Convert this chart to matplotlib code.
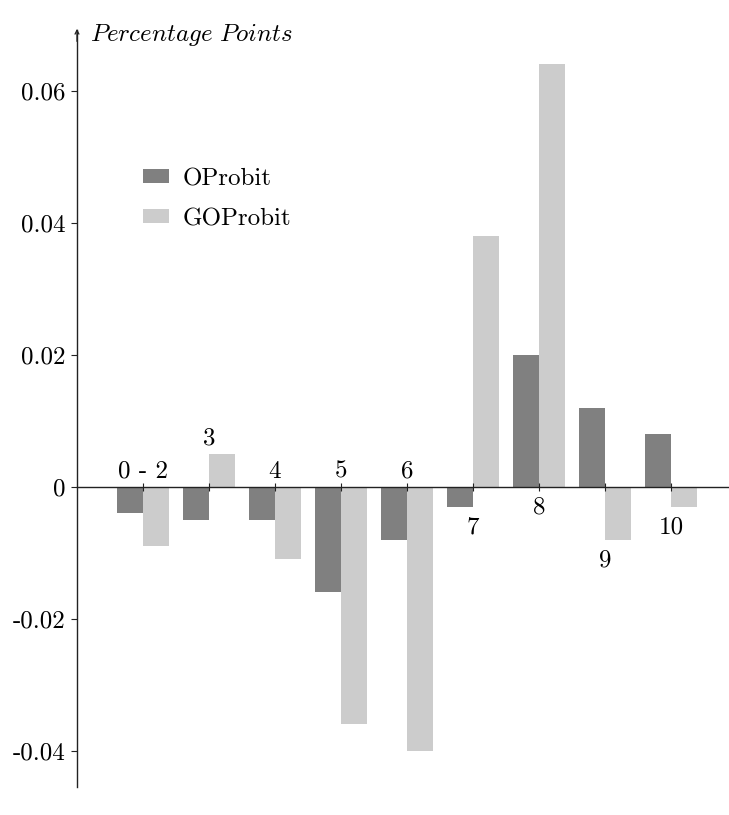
import matplotlib
matplotlib.use("Agg")
import matplotlib.pyplot as plt
import numpy as np

plt.rcParams['font.family'] = ['cmr10', 'DejaVu Serif']
plt.rcParams['mathtext.fontset'] = 'cm'
plt.rcParams['axes.formatter.use_mathtext'] = True
plt.rcParams['axes.unicode_minus'] = False

categories = ["0 - 2", "3", "4", "5", "6", "7", "8", "9", "10"]
oprobit = [-0.004, -0.005, -0.005, -0.016, -0.008, -0.003, 0.020, 0.012, 0.008]
goprobit = [-0.009, 0.005, -0.011, -0.036, -0.040, 0.038, 0.064, -0.008, -0.003]
label_side = ["above", "above", "above", "above", "above", "below", "below", "below", "below"]
yticks = [-0.04, -0.02, 0, 0.02, 0.04, 0.06]
yticklabels = ["-0.04", "-0.02", "0", "0.02", "0.04", "0.06"]

dark = "#808080"
light = "#cccccc"
FS = 18

fig = plt.figure(figsize=(7.29, 8.15), dpi=100)
ax = fig.add_axes([0.1056, 0.0344, 0.8944, 0.9286])

x = np.arange(len(categories))
w = 0.394
ax.bar(x, oprobit, width=-w, align='edge', color=dark, label="OProbit")
ax.bar(x, goprobit, width=w, align='edge', color=light, label="GOProbit")

ax.set_xlim(-1.0, 8.88)
ax.set_ylim(-0.0455, 0.0692)

for s in ['top', 'right']:
    ax.spines[s].set_visible(False)
ax.spines['bottom'].set_position(('data', 0))
for s in ['left', 'bottom']:
    ax.spines[s].set_color('#222222')
    ax.spines[s].set_linewidth(1.0)

ax.set_xticks(x)
ax.set_xticklabels([])
ax.tick_params(axis='x', direction='inout', length=6, width=0.8, color='#222222')
ax.set_yticks(yticks)
ax.set_yticklabels(yticklabels, fontsize=FS)
ax.tick_params(axis='y', direction='out', length=4.5, width=0.8, color='#222222', pad=4)

for i, (c, side) in enumerate(zip(categories, label_side)):
    if side == "above":
        base = max(0, oprobit[i], goprobit[i])
        off = 6.5
    else:
        base = min(0, oprobit[i], goprobit[i])
        off = -19.3
    ax.annotate(c, xy=(i, base), xytext=(0, off), textcoords='offset points',
                ha='center', va='baseline', fontsize=FS)

# arrow on y axis
ax.annotate('', xy=(-1.0, 0.0694), xytext=(-1.0, 0.0675), xycoords='data',
            arrowprops=dict(arrowstyle='->', lw=0.9, color='#222222',
                            shrinkA=0, shrinkB=0, mutation_scale=7),
            annotation_clip=False)

ax.text(0.020, 0.993, r'$\mathit{Percentage\ Points}$', transform=ax.transAxes,
        fontsize=FS, ha='left', va='center')

ax.legend(loc='upper left', bbox_to_anchor=(0.1012, 0.818), frameon=False,
          fontsize=FS, handlelength=1.04, handleheight=0.48, labelspacing=0.72,
          handletextpad=0.56, borderaxespad=0, borderpad=0)

fig.savefig("out.png", dpi=100)
